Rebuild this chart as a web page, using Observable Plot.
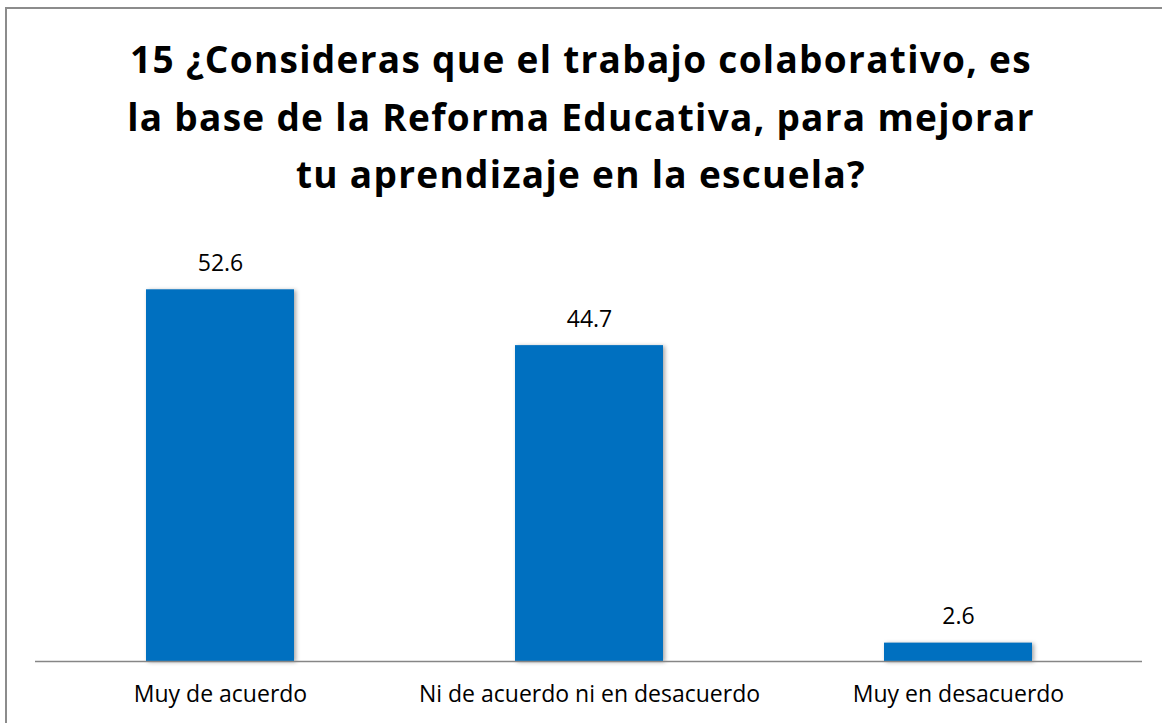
<!DOCTYPE html>
<html>
<head>
<meta charset="utf-8">
<script src="https://cdn.jsdelivr.net/npm/d3@7"></script>
<script src="https://cdn.jsdelivr.net/npm/@observablehq/plot@0.6"></script>
<style>
  html, body { margin: 0; padding: 0; background: #fff; }
  #wrap { position: relative; width: 1162px; height: 723px; overflow: hidden; font-family: "Open Sans", sans-serif; }
  #frame { position: absolute; left: 5px; top: 7px; width: 1200px; height: 800px; border-top: 2px solid #8c8c8c; border-left: 2px solid #8c8c8c; box-sizing: border-box; }
  #title { position: absolute; left: 0; width: 1162px; top: 30px; text-align: center; font-weight: bold; font-size: 37px; line-height: 57.5px; letter-spacing: 1.3px; color: #000; }
  #chart { position: absolute; left: 0; top: 0; }
  .bars rect { filter: drop-shadow(2px 1px 2px rgba(0,0,0,0.35)); }
</style>
</head>
<body>
<div id="wrap">
  <div id="frame"></div>
  <div id="chart"></div>
  <div id="title">15 ¿Consideras que el trabajo colaborativo, es<br>la base de la Reforma Educativa, para mejorar<br>tu aprendizaje en la escuela?</div>
</div>
<script>
const categories = ["Muy de acuerdo", "Ni de acuerdo ni en desacuerdo", "Muy en desacuerdo"];
const values = [52.6, 44.7, 2.6];
const labels = ["52.6", "44.7", "2.6"];

const data = categories.map((c, i) => ({category: c, value: values[i], label: labels[i]}));

const chart = Plot.plot({
  width: 1162,
  height: 723,
  marginTop: 237,
  marginBottom: 62,
  marginLeft: 35,
  marginRight: 20,
  style: {fontFamily: "'Open Sans', sans-serif", background: "transparent", color: "#000"},
  x: {domain: categories, paddingInner: 0.6, paddingOuter: 0.3, label: null},
  y: {domain: [0, 60], axis: null},
  marks: [
    Plot.barY(data, {x: "category", y: "value", fill: "#0070C0", className: "bars"}),
    Plot.ruleY([0], {stroke: "#868686", strokeWidth: 1.5}),
    Plot.text(data, {x: "category", y: "value", text: "label", lineAnchor: "bottom", dy: -19, fontSize: 23, fill: "#000"}),
    Plot.axisX({tickSize: 0, tickPadding: 24, fontSize: 23, label: null, fill: "#000"})
  ]
});
document.getElementById("chart").appendChild(chart);
</script>
</body>
</html>
